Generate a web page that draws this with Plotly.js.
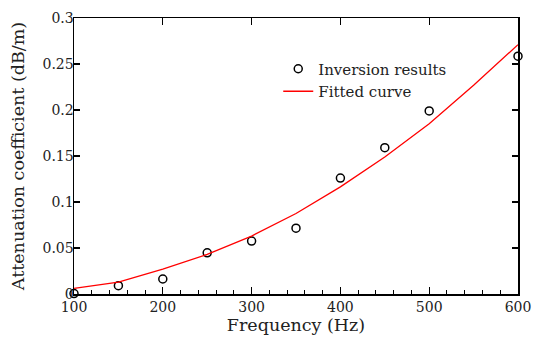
<!DOCTYPE html>
<html><head><meta charset="utf-8">
<script src="https://cdn.plot.ly/plotly-3.0.1.min.js"></script>
<style>body{margin:0;background:#fff}#c{width:535px;height:338px}</style>
</head><body><div id="c"></div>
<script>
const freqPts = [100,150,200,250,300,350,400,450,500,600];
const inversion = [0.0005,0.009,0.0163,0.0448,0.0575,0.0716,0.126,0.159,0.199,0.2585];
const freqFit = [100,150,200,250,300,350,400,450,500,550,600];
const fitted = [0.0062,0.013,0.027,0.043,0.063,0.0875,0.1164,0.149,0.185,0.227,0.271];
const xTicks = [100,200,300,400,500,600];
const yTicks = [0,0.05,0.1,0.15,0.2,0.25,0.3];
const yTickText = ['0','0.05','0.1','0.15','0.2','0.25','0.3'];

const font = {family:'DejaVu Serif, serif', size:14, color:'#222'};
const traces = [
 {x:freqPts, y:inversion, mode:'markers', name:'Inversion results', type:'scatter',
  marker:{symbol:'circle-open', size:8, color:'#000', line:{width:1.5, color:'#000'}}, cliponaxis:false},
 {x:freqFit, y:fitted, mode:'lines', name:'Fitted curve', type:'scatter',
  line:{color:'#ff0000', width:1.3}},
 {x:freqFit, y:fitted, xaxis:'x2', yaxis:'y2', mode:'lines', opacity:0, showlegend:false, hoverinfo:'skip', line:{width:0}}
];
const layout = {
 width:535, height:338,
 margin:{l:74, r:17, t:18, b:44},
 paper_bgcolor:'#fff', plot_bgcolor:'#fff',
 font:font,
 showlegend:true,
 legend:{x:0.46, y:0.875, xanchor:'left', yanchor:'top', bgcolor:'rgba(0,0,0,0)',
  font:{family:'DejaVu Serif, serif', size:15, color:'#222'}, tracegroupgap:0, itemwidth:30},
 xaxis:{range:[100,600], tickvals:xTicks, ticktext:xTicks.map(String), ticks:'inside', ticklen:7, tickwidth:1.2,
  tickcolor:'#000', showline:true, linecolor:'#000', linewidth:1.5, showgrid:false, zeroline:false,
  minor:{dtick:20, ticks:'inside', ticklen:4, tickwidth:1, tickcolor:'#000', showgrid:false},
  title:{text:'\u00a0\u00a0\u00a0Frequency (Hz)', font:{family:'DejaVu Serif, serif', size:17.5, color:'#222'}, standoff:3},
  tickfont:font},
 yaxis:{range:[0,0.3], tickvals:yTicks, ticktext:yTickText, ticks:'inside', ticklen:6, tickwidth:1.2,
  tickcolor:'#000', showline:true, linecolor:'#000', linewidth:1.5, showgrid:false, zeroline:false,
  ticklabelstandoff:-4,
  title:{text:'Attenuation coefficient (dB/m)', font:{family:'DejaVu Serif, serif', size:17.5, color:'#222'}, standoff:13},
  tickfont:font},
 xaxis2:{range:[100,600], overlaying:'x', side:'top', tickvals:xTicks, showticklabels:false, ticks:'inside', ticklen:7, tickwidth:1.2,
  tickcolor:'#000', showline:true, linecolor:'#000', linewidth:1.5, showgrid:false, zeroline:false},
 yaxis2:{range:[0,0.3], overlaying:'y', side:'right', tickvals:yTicks, showticklabels:false, ticks:'inside', ticklen:6, tickwidth:1.2,
  tickcolor:'#000', showline:true, linecolor:'#000', linewidth:1.5, showgrid:false, zeroline:false}
};
Plotly.newPlot('c', traces, layout, {staticPlot:true, displayModeBar:false});
</script></body></html>
